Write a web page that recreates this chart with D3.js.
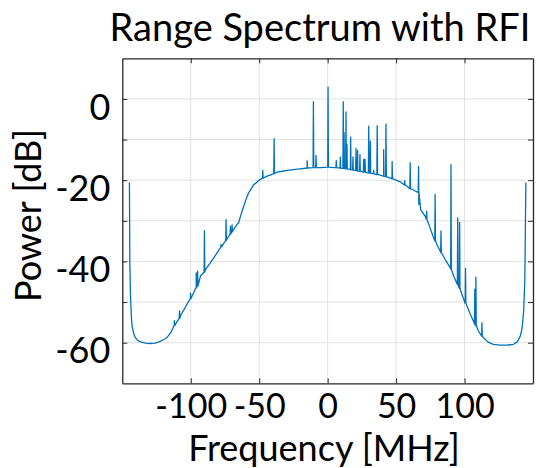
<!DOCTYPE html>
<html><head><meta charset="utf-8">
<script src="https://cdn.jsdelivr.net/npm/d3@7"></script>
<style>
body{margin:0;background:#fff}
svg{display:block}
text{font-family:Lato,"Open Sans",sans-serif;fill:#000}
</style>
</head><body>
<svg id="chart" width="545" height="468"></svg>
<script>
// ---- data ----
const baseFreq = [-144.8,-144.5,-144.0,-143.3,-142.8,-141.5,-140.4,-138.5,-136.7,-133,-130,-126,-122,-119,-117,-114,-112,-110,-107.5,-104,-100.2,-96,-92.9,-89.3,-86,-83.2,-78.3,-73.4,-70,-68.6,-66,-65,-63.7,-62.5,-61.3,-59.5,-57.7,-56,-54,-52,-49.1,-47,-44.2,-40,-36.9,-33,-29.6,-25,-20,-15,-10,-5,0,5,10,16.6,22,28.8,35,40.9,47,53,58,62,65.3,66.6,68,71.3,74,77.4,80,82.3,86,89.6,92,95.6,98,100.5,104,107,110,113.9,117,121,126,131,135.8,138.5,140.7,142,143.1,144,144.8];
const basePower = [-20.6,-40,-48.5,-54,-56,-58,-58.8,-59.5,-59.8,-60.1,-60.2,-60.1,-59.6,-59.1,-58.6,-57.2,-55.8,-54.8,-53.3,-51.3,-49.2,-46.5,-43.6,-42,-40.5,-39.1,-36.6,-34.4,-32.8,-32.1,-30.8,-30.5,-28.9,-27.6,-26.4,-24.6,-23.1,-22.2,-21.1,-20.6,-19.8,-19.5,-19.0,-18.5,-18.0,-17.8,-17.6,-17.4,-17.2,-17.0,-16.9,-16.9,-16.8,-16.9,-17.1,-17.4,-17.8,-18.2,-18.6,-19.0,-19.6,-20.4,-21.5,-22.3,-22.9,-26.0,-27.3,-28.9,-31,-34.2,-36,-37.5,-39.6,-41.6,-43.6,-46.1,-48,-50.2,-52.8,-55.1,-57,-58.8,-59.8,-60.4,-60.6,-60.6,-60.4,-59.8,-58.4,-56.5,-52.6,-45,-20.6];

// RFI spikes: frequency, power at the foot, power at the peak
const spikeFreq = [-112,-108.2,-100.2,-96,-95,-90.0,-77.8,-74.2,-71,-69.8,-47.4,-39.1,-15.0,-10.4,-8.5,0.3,6.3,9.3,11.4,12.0,13.4,14.1,16.8,18.5,20.7,21.9,23.6,26.3,27.3,30.0,31.2,33.6,36.2,40.9,42.6,47.1,56.3,60.3,66.4,72.3,78.5,82.8,90.1,95.0,96.4,100.7,107.5,108.3,112.7];
const spikeBase = [-55.8,-54,-49.2,-46.5,-46,-42.6,-36.4,-34.8,-33.3,-32.7,-19.5,-18.4,-17.0,-16.9,-16.9,-16.8,-16.9,-17.0,-17.1,-17.1,-17.2,-17.2,-17.4,-17.5,-17.6,-17.7,-17.8,-18.0,-18.0,-18.2,-18.3,-18.4,-18.6,-19.0,-19.1,-19.6,-21.2,-22.1,-23.0,-29.6,-34.9,-37.8,-41.9,-45.7,-46.6,-50.3,-55.4,-55.8,-58.4];
const spikePeak = [-54.6,-52.2,-47.8,-42.8,-42.4,-32.4,-35.8,-29.7,-31.3,-31.0,-17.6,-9.8,-15.2,-0.7,-13.9,2.9,-15.2,-14.3,-0.7,-8.3,-3.2,-11.2,-9.4,-14.3,-12.2,-12.7,-13.7,-14.9,-14.8,-6.7,-10.4,-17.6,-6.6,-12.5,-6.2,-15.4,-20.1,-15.7,-16.6,-27.6,-23.5,-32.5,-16.2,-29.3,-30.4,-41.7,-46.8,-43.9,-55.1];

const xDomain = [-150, 150];
const yDomain = [-70, 10];
const xGridTicks = [-100, -50, 0, 50, 100];
const xTickLabels = ["-100", "-50", "0", "50", "100"];
const yGridTicks = [-60, -50, -40, -30, -20, -10, 0];
const yLabelTicks = [-60, -40, -20, 0];
const titleText = "Range Spectrum with RFI";
const xLabelText = "Frequency [MHz]";
const yLabelText = "Power [dB]";

// ---- layout ----
const L = 122.3, R = 533, T = 58.3, B = 383.3;
const svg = d3.select("#chart");
const x = d3.scaleLinear().domain(xDomain).range([L, R]);
const y = d3.scaleLinear().domain(yDomain).range([B, T]);

const frameColor = "#262626";
const gridColor = "#e2e2e2";
const lineColor = "#0072BD";

// grid
const grid = svg.append("g");
grid.selectAll("line.vx").data(xGridTicks).enter().append("line")
  .attr("x1", d => x(d)).attr("x2", d => x(d)).attr("y1", T).attr("y2", B)
  .attr("stroke", gridColor).attr("stroke-width", 1);
grid.selectAll("line.hy").data(yGridTicks).enter().append("line")
  .attr("y1", d => y(d)).attr("y2", d => y(d)).attr("x1", L).attr("x2", R)
  .attr("stroke", gridColor).attr("stroke-width", 1);

// combined line data
const pts = baseFreq.map((f, i) => ({f, p: basePower[i]}));
spikeFreq.forEach((f, i) => {
  pts.push({f: f - 0.25, p: spikeBase[i]});
  pts.push({f: f, p: spikePeak[i]});
  pts.push({f: f + 0.25, p: spikeBase[i]});
});
pts.sort((a, b) => a.f - b.f);

const line = d3.line().x(d => x(d.f)).y(d => y(d.p));
svg.append("path").datum(pts)
  .attr("d", line).attr("fill", "none")
  .attr("stroke", lineColor).attr("stroke-width", 1.3)
  .attr("stroke-linejoin", "round");

// axes (inward ticks on all four sides)
const fmtX = d => xTickLabels[xGridTicks.indexOf(d)];
const fmtY = d => yLabelTicks.includes(d) ? String(d) : "";

const axB = svg.append("g").attr("transform", `translate(0,${B})`)
  .call(d3.axisBottom(x).tickValues(xGridTicks).tickFormat(fmtX).tickSize(-5).tickSizeOuter(0).tickPadding(11));
const axT = svg.append("g").attr("transform", `translate(0,${T})`)
  .call(d3.axisTop(x).tickValues(xGridTicks).tickFormat("").tickSize(-5).tickSizeOuter(0));
const axL = svg.append("g").attr("transform", `translate(${L},0)`)
  .call(d3.axisLeft(y).tickValues(yGridTicks).tickFormat(fmtY).tickSize(-5).tickSizeOuter(0).tickPadding(12));
const axR = svg.append("g").attr("transform", `translate(${R},0)`)
  .call(d3.axisRight(y).tickValues(yGridTicks).tickFormat("").tickSize(-5).tickSizeOuter(0));

[axB, axT, axL, axR].forEach(g => {
  g.select(".domain").attr("stroke", frameColor).attr("stroke-width", 1.3);
  g.selectAll(".tick line").attr("stroke", frameColor).attr("stroke-width", 1);
  g.selectAll("text").attr("font-family", "Lato, sans-serif").attr("fill", "#000");
});
axB.selectAll("text").attr("font-size", 34);
axL.selectAll("text").attr("font-size", 36).attr("dy", "0.56em");

// titles
svg.append("text").attr("x", 320).attr("y", 41).attr("text-anchor", "middle")
  .attr("font-size", 38).text(titleText);
svg.append("text").attr("x", 324).attr("y", 461).attr("text-anchor", "middle")
  .attr("font-size", 36).text(xLabelText);
svg.append("text").attr("transform", "translate(41,215.5) rotate(-90)").attr("text-anchor", "middle")
  .attr("font-size", 36).text(yLabelText);
</script>
</body></html>
